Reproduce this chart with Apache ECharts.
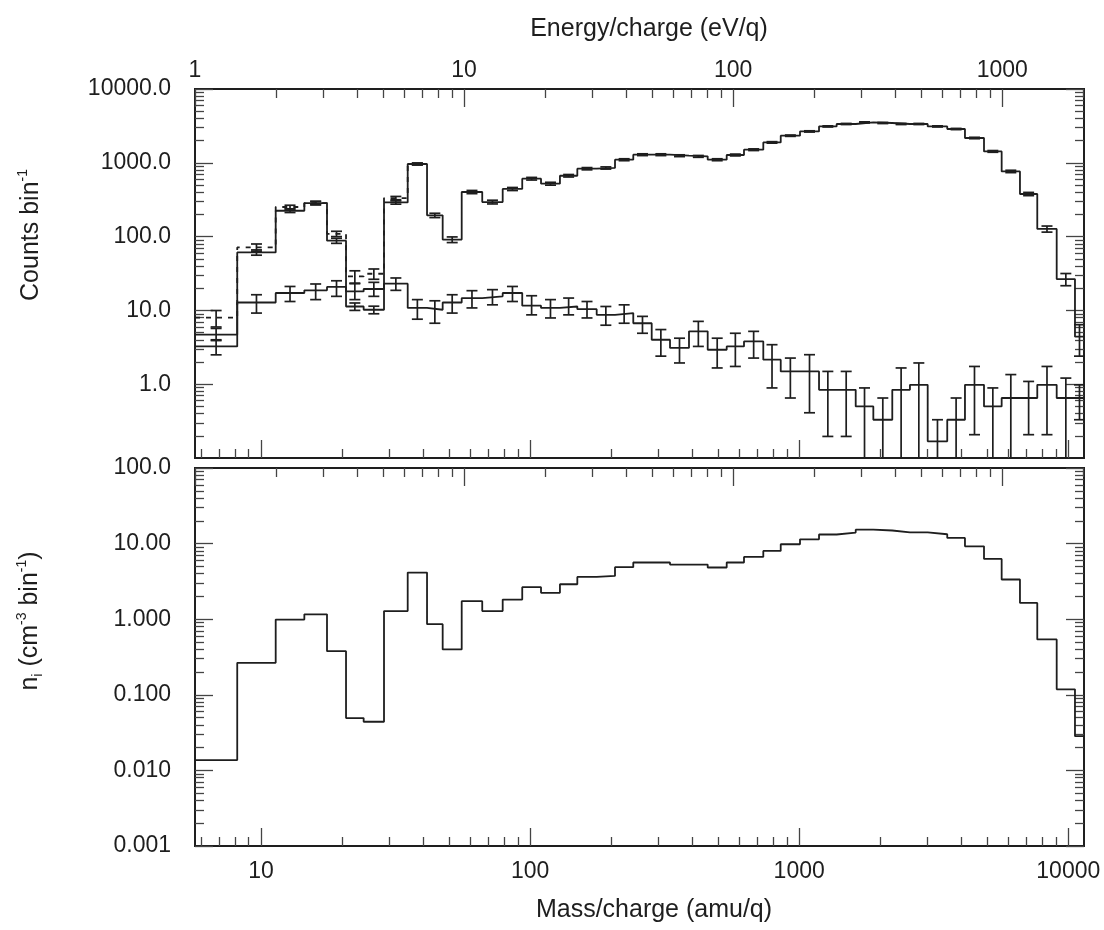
<!DOCTYPE html>
<html>
<head>
<meta charset="utf-8">
<script src="https://cdn.jsdelivr.net/npm/echarts@6/dist/echarts.min.js"></script>
<style>
  html, body { margin: 0; padding: 0; background: #fff; }
  #chart { width: 1104px; height: 930px; }
</style>
</head>
<body>
<div id="chart"></div>
<script>
// bin edges, mass/charge (amu/q)
const binEdges = [5.685, 8.16, 11.34, 14.49, 17.59, 20.7, 24.07, 28.65, 35.09, 41.4,
  47.33, 55.7, 66.4, 79.1, 93.5, 109.8, 129.1, 149.8, 176.8, 206.8,
  241.8, 283.1, 331.1, 389.5, 457.1, 537.8, 623.6, 735.6, 853.9, 1007,
  1185, 1378, 1622, 1886, 2218, 2580, 3003, 3550, 4131, 4862,
  5655, 6614, 7670, 9056, 10590, 11440]

// top panel: counts per bin
const totalCounts = [3.25, 61, 224, 285, 88, 11.3, 10.2, 290, 963, 194,
  91, 402, 294, 442, 609, 521, 668, 832, 851, 1101,
  1288, 1288, 1248, 1222, 1101, 1276, 1505, 1890, 2330, 2662,
  3113, 3357, 3527, 3462, 3357, 3357, 3113, 2870, 2168, 1427,
  764, 378, 127, 26.6, 4.4]
const totalErr = [0.75, 5, 12, 15, 7, 1.3, 1.2, 15, 29, 13,
  8, 20, 17, 21, 25, 23, 26, 29, 29, 33,
  36, 36, 35, 35, 33, 36, 39, 43, 48, 52,
  56, 58, 59, 59, 58, 58, 56, 54, 47, 38,
  28, 19, 12, 5, 2]

// dashed curve (only differs at low mass)
const rawCounts = [7.96, 71.4, 252, 285, 109, 28.9, 31.4, 333, 963]
const rawErr = [2.0, 8, 14, 15, 9, 5.5, 5, 17, 29]

// lower curve with error bars
const bgCounts = [4.69, 12.8, 17.2, 18.7, 20.8, 18.1, 19.5, 23.0, 10.8, 10.2,
  12.8, 14.7, 15.5, 17.2, 11.6, 10.8, 11.3, 10.4, 8.7, 9.2,
  6.7, 4.0, 3.1, 5.2, 2.93, 3.25, 3.8, 2.15, 1.49, 1.49,
  0.84, 0.84, 0.5, 0.33, 0.84, 0.98, 0.168, 0.33, 0.98, 0.5,
  0.65, 0.65, 0.98, 0.65, 0.65]
const bgLow = [3.9, 9.2, 13.2, 14.0, 15.5, 14.0, 15.5, 18.7, 7.6, 6.7,
  9.2, 10.8, 11.9, 13.2, 8.7, 7.9, 8.7, 7.9, 6.3, 6.7,
  4.9, 2.4, 1.94, 3.25, 1.66, 1.74, 2.26, 0.89, 0.65, 0.41,
  0.196, 0.196, 0.05, 0.05, 0.05, 0.05, 0.05, 0.05, 0.207, 0.05,
  0.05, 0.207, 0.207, 0.05, 0.33]
const bgHigh = [5.7, 16.3, 21.1, 22.8, 25.2, 23.0, 24.0, 27.5, 14.0, 13.5,
  16.3, 18.5, 19.1, 21.1, 15.8, 14.0, 14.7, 13.2, 11.3, 11.9,
  8.3, 5.5, 4.2, 7.1, 4.2, 4.9, 5.2, 3.43, 2.26, 2.51,
  1.49, 1.49, 0.89, 0.65, 1.66, 1.94, 0.33, 0.65, 1.74, 0.89,
  1.35, 1.09, 1.74, 1.21, 0.98]

// bottom panel: density n_i (cm^-3 bin^-1)
const density = [0.0137, 0.265, 0.99, 1.16, 0.378, 0.0492, 0.044, 1.28, 4.14, 0.859,
  0.398, 1.73, 1.28, 1.82, 2.65, 2.23, 2.9, 3.62, 3.74, 4.87,
  5.62, 5.62, 5.28, 5.28, 4.83, 5.62, 6.67, 8.0, 9.8, 11.4,
  13.2, 14.0, 15.3, 14.9, 14.1, 14.1, 13.3, 11.9, 9.2, 6.27,
  3.35, 1.64, 0.54, 0.118, 0.0284]

const massMin = 5.685
const massMax = 11440
const energyMin = 0.99999
const energyMax = massMax / massMin

const massLabels = [10, 100, 1000, 10000]
const energyLabels = [1, 10, 100, 1000]
const countLabels = [1, 10, 100, 1000, 10000]
const densityLabels = [0.001, 0.01, 0.1, 1, 10, 100]

const FONT = "'Liberation Sans', Arial, Helvetica, sans-serif"
const INK = '#1e1e1e'
const LW = 1.8

const minorTicks = (lo, hi) => {
  const out = []
  for (let d = Math.floor(Math.log10(lo)); d <= Math.ceil(Math.log10(hi)); d++) {
    for (let k = 2; k <= 9; k++) {
      const v = k * Math.pow(10, d)
      if (v > lo && v < hi) out.push(v)
    }
  }
  return out
}

const makeAxis = (gridIndex, position, min, max, ticks, len, labels, fmt, margin) => ({
  type: 'log',
  logBase: 10,
  gridIndex,
  position,
  min,
  max,
  axisLine: { show: true, onZero: false, lineStyle: { color: INK, width: 1.8 } },
  axisTick: {
    show: true,
    inside: true,
    length: len,
    customValues: ticks,
    lineStyle: { color: '#444', width: 1.3 },
  },
  axisLabel: labels
    ? {
        show: true,
        customValues: labels,
        formatter: fmt,
        margin,
        color: INK,
        fontSize: 23,
        fontFamily: FONT,
      }
    : { show: false },
  splitLine: { show: false },
})

const fmtInt = (v) => String(Math.round(v))
const fmtCount = (v) => v.toFixed(1)
const fmtDens = (v) => (v >= 100 ? v.toFixed(1) : v >= 10 ? v.toFixed(2) : v.toFixed(3))

const stepData = (values) => {
  const pts = values.map((v, i) => [binEdges[i], v])
  pts.push([binEdges[values.length], values[values.length - 1]])
  return pts
}

const errorBars = (lo, hi, xIdx, yIdx) => ({
  type: 'custom',
  xAxisIndex: xIdx,
  yAxisIndex: yIdx,
  data: lo.map((l, i) => [binEdges[i], binEdges[i + 1], l, hi[i]]),
  encode: { x: [0, 1], y: [2, 3] },
  renderItem: (params, api) => {
    const cs = params.coordSys
    const a = api.coord([api.value(0), api.value(3)])
    const b = api.coord([api.value(1), api.value(2)])
    const x = (a[0] + b[0]) / 2
    const bottom = cs.y + cs.height
    const yTop = Math.max(cs.y, a[1])
    const yBot = Math.min(bottom, b[1])
    const style = { stroke: INK, lineWidth: 1.7 }
    const children = [
      { type: 'line', shape: { x1: x, y1: yTop, x2: x, y2: yBot }, style },
      { type: 'line', shape: { x1: x - 5.5, y1: yTop, x2: x + 5.5, y2: yTop }, style },
    ]
    if (b[1] < bottom) {
      children.push({ type: 'line', shape: { x1: x - 5.5, y1: yBot, x2: x + 5.5, y2: yBot }, style })
    }
    return { type: 'group', children }
  },
  z: 3,
})

const chart = echarts.init(document.getElementById('chart'))

const mMinor = minorTicks(massMin, massMax)
const eMinor = minorTicks(energyMin, energyMax)

const option = {
  animation: false,
  backgroundColor: '#fff',
  grid: [
    { left: 195, top: 89, width: 889, height: 369 },
    { left: 195, top: 468, width: 889, height: 378 },
  ],
  xAxis: [
    makeAxis(0, 'bottom', massMin, massMax, mMinor, 9),
    makeAxis(0, 'bottom', massMin, massMax, massLabels, 18),
    makeAxis(0, 'top', energyMin, energyMax, energyLabels, 18, energyLabels, fmtInt, 7),
    makeAxis(0, 'top', energyMin, energyMax, eMinor, 9),
    makeAxis(1, 'bottom', massMin, massMax, massLabels, 18, massLabels, fmtInt, 14),
    makeAxis(1, 'bottom', massMin, massMax, mMinor, 9),
    makeAxis(1, 'top', energyMin, energyMax, energyLabels, 18),
    makeAxis(1, 'top', energyMin, energyMax, eMinor, 9),
  ],
  yAxis: [
    makeAxis(0, 'left', 0.099999, 10000.001, countLabels, 18, countLabels, fmtCount, 24),
    makeAxis(0, 'left', 0.099999, 10000.001, minorTicks(0.1, 10000), 9),
    makeAxis(0, 'right', 0.099999, 10000.001, countLabels, 18),
    makeAxis(0, 'right', 0.099999, 10000.001, minorTicks(0.1, 10000), 9),
    makeAxis(1, 'left', 0.00099999, 100.0001, densityLabels, 18, densityLabels, fmtDens, 24),
    makeAxis(1, 'left', 0.00099999, 100.0001, minorTicks(0.001, 100), 9),
    makeAxis(1, 'right', 0.00099999, 100.0001, densityLabels, 18),
    makeAxis(1, 'right', 0.00099999, 100.0001, minorTicks(0.001, 100), 9),
  ],
  series: [
    {
      type: 'line',
      step: 'end',
      xAxisIndex: 0,
      yAxisIndex: 0,
      symbol: 'none',
      data: stepData(rawCounts),
      lineStyle: { color: INK, width: LW, type: [5, 6] },
    },
    {
      type: 'line',
      step: 'end',
      xAxisIndex: 0,
      yAxisIndex: 0,
      symbol: 'none',
      data: stepData(totalCounts),
      lineStyle: { color: INK, width: LW },
    },
    {
      type: 'line',
      step: 'end',
      xAxisIndex: 0,
      yAxisIndex: 0,
      symbol: 'none',
      data: stepData(bgCounts),
      lineStyle: { color: INK, width: LW },
    },
    errorBars(rawCounts.map((v, i) => v - rawErr[i]), rawCounts.map((v, i) => v + rawErr[i]), 0, 0),
    errorBars(totalCounts.map((v, i) => v - totalErr[i]), totalCounts.map((v, i) => v + totalErr[i]), 0, 0),
    errorBars(bgLow, bgHigh, 0, 0),
    {
      type: 'line',
      step: 'end',
      xAxisIndex: 4,
      yAxisIndex: 4,
      symbol: 'none',
      data: stepData(density),
      lineStyle: { color: INK, width: LW },
    },
  ],
  graphic: [
    {
      type: 'text',
      x: 649,
      y: 29,
      style: {
        text: 'Energy/charge (eV/q)',
        fontSize: 25,
        fontFamily: FONT,
        fill: INK,
        align: 'center',
        verticalAlign: 'middle',
      },
    },
    {
      type: 'text',
      x: 654,
      y: 910,
      style: {
        text: 'Mass/charge (amu/q)',
        fontSize: 25,
        fontFamily: FONT,
        fill: INK,
        align: 'center',
        verticalAlign: 'middle',
      },
    },
    {
      type: 'text',
      x: 31,
      y: 235,
      rotation: Math.PI / 2,
      style: {
        text: '{a|Counts bin}{s|-1}',
        align: 'center',
        verticalAlign: 'middle',
        rich: {
          a: { fontSize: 25, fontFamily: FONT, fill: INK, lineHeight: 30 },
          s: { fontSize: 14, fontFamily: FONT, fill: INK, lineHeight: 14, verticalAlign: 'top' },
        },
      },
    },
    {
      type: 'text',
      x: 30,
      y: 621,
      rotation: Math.PI / 2,
      style: {
        text: '{a|n}{b|i}{a| (cm}{s|-3}{a| bin}{s|-1}{a|)}',
        align: 'center',
        verticalAlign: 'middle',
        rich: {
          a: { fontSize: 25, fontFamily: FONT, fill: INK, lineHeight: 30 },
          s: { fontSize: 14, fontFamily: FONT, fill: INK, lineHeight: 14, verticalAlign: 'top' },
          b: { fontSize: 14, fontFamily: FONT, fill: INK, lineHeight: 14, verticalAlign: 'bottom' },
        },
      },
    },
  ],
}

chart.setOption(option)
</script>
</body>
</html>
